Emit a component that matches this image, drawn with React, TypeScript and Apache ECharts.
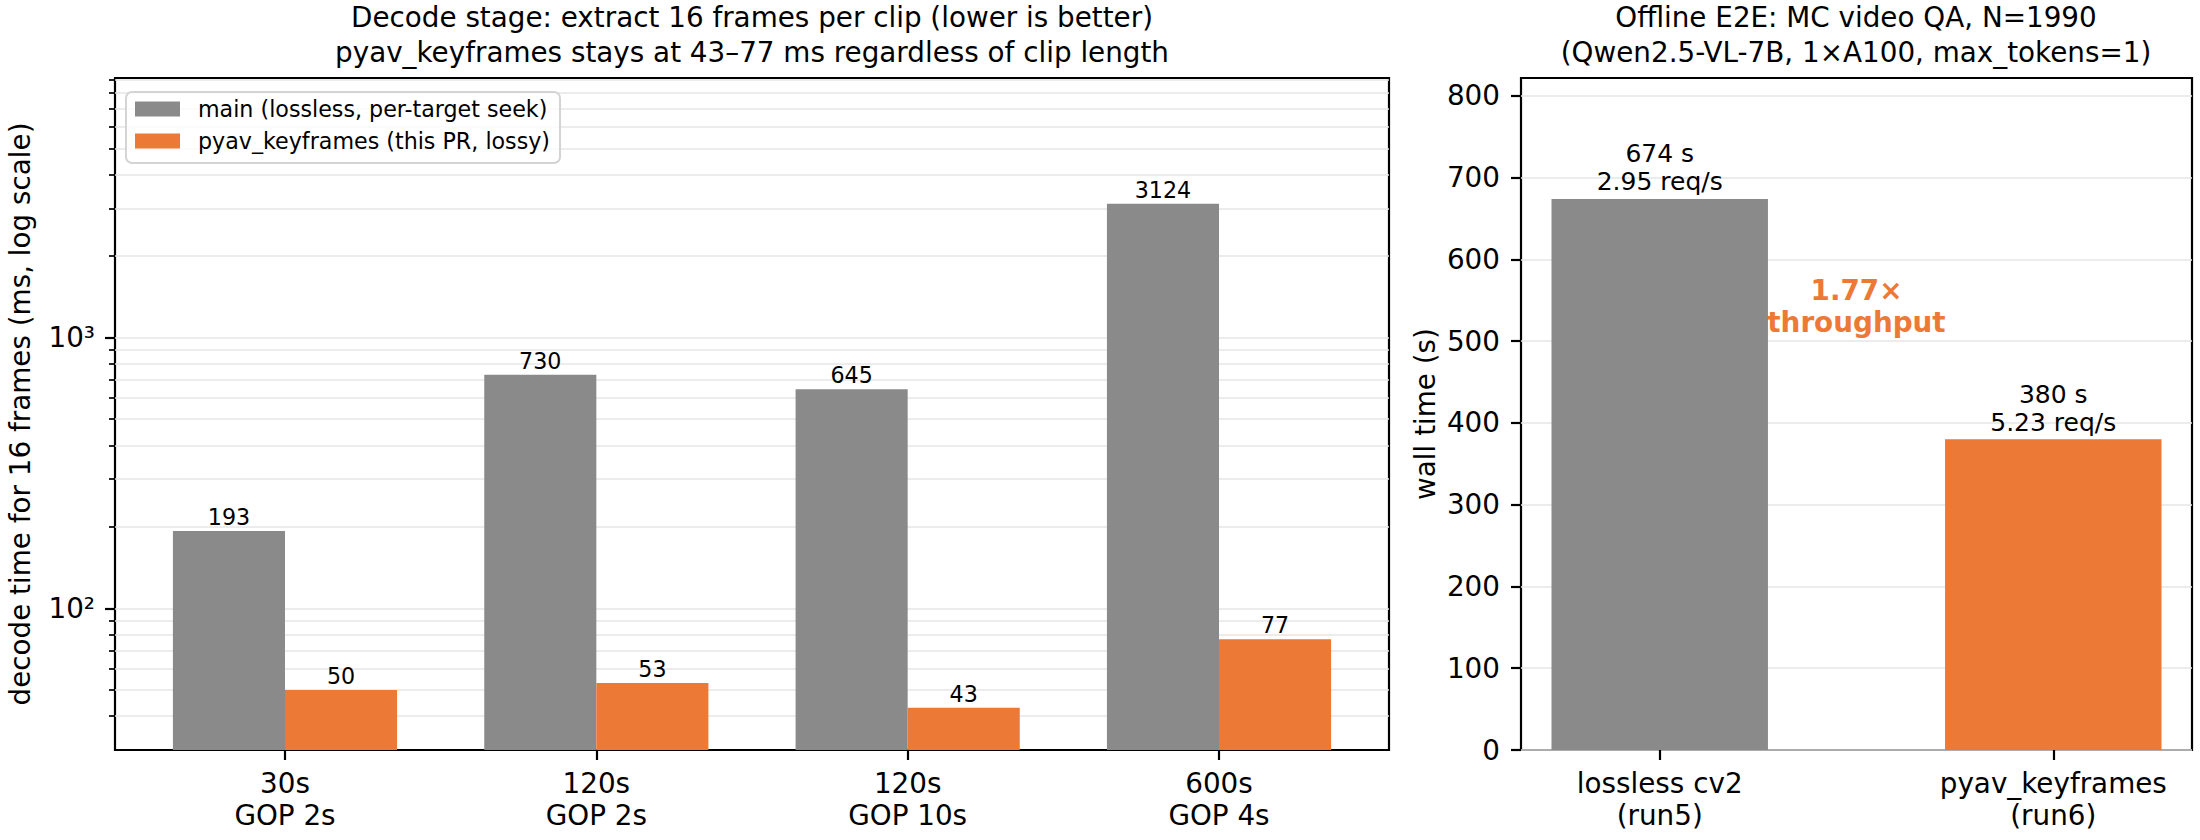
import React, { useEffect, useRef } from 'react';
import * as echarts from 'echarts';

// ---------- data ----------
const clipCategories = ['30s\nGOP 2s', '120s\nGOP 2s', '120s\nGOP 10s', '600s\nGOP 4s'];
const mainDecodeMs = [193, 730, 645, 3124];
const pyavDecodeMs = [50, 53, 43, 77];
const decodeSeriesNames = ['main (lossless, per-target seek)', 'pyav_keyframes (this PR, lossy)'];

const e2eCategories = ['lossless cv2\n(run5)', 'pyav_keyframes\n(run6)'];
const e2eWallTimeS = [674, 380];
const e2eReqPerS = [2.95, 5.23];

const decodeMajorTicks = [100, 1000];
const decodeMinorTicks = [40, 50, 60, 70, 80, 90, 200, 300, 400, 500, 600, 700, 800, 900, 2000, 3000, 4000, 5000, 6000, 7000, 8000, 9000];
const wallTimeTicks = [0, 100, 200, 300, 400, 500, 600, 700, 800];

const DECODE_MIN = 30;
const DECODE_MAX = 9100;
const WALL_MAX = 822;
const RATIO_LABEL_Y = 543;

const GRAY = '#8a8a8a';
const ORANGE = '#ED7936';
const GRID_LINE = '#e6e6e6';
const FONT = 'DejaVu Sans';
const FS = 27.8;

const LEFT_BAR = 0.36;
const RIGHT_BAR = 0.55;

function xRange(n: number, barHalfSpan: number) {
  const lo = -barHalfSpan;
  const hi = n - 1 + barHalfSpan;
  const m = 0.05 * (hi - lo);
  return [lo - m, hi + m];
}

export default function App() {
  const ref = useRef<HTMLDivElement>(null);
  useEffect(() => {
    if (!ref.current) return;
    const chart = echarts.init(ref.current, undefined, { renderer: 'svg' });
    const [lx0, lx1] = xRange(clipCategories.length, LEFT_BAR);
    const [rx0, rx1] = xRange(e2eCategories.length, RIGHT_BAR / 2);
    const sup: Record<string, string> = { '1': '¹', '2': '²', '3': '³', '4': '⁴' };
    const ratio = (e2eWallTimeS[0] / e2eWallTimeS[1]).toFixed(2);

    const xTickCommon = {
      show: true,
      length: 10,
      lineStyle: { color: '#000', width: 2.2 },
    };
    const xLabelCommon = {
      fontSize: FS,
      lineHeight: 32,
      color: '#000',
      fontFamily: FONT,
      margin: 17,
    };
    const noLine = { show: false, onZero: false };

    const option: any = {
      animation: false,
      textStyle: { fontFamily: FONT, color: '#000' },
      title: [
        {
          text: 'Decode stage: extract 16 frames per clip (lower is better)\npyav_keyframes stays at 43–77 ms regardless of clip length',
          left: 752,
          top: 0,
          textAlign: 'center',
          padding: 0,
          textStyle: { fontSize: FS, fontWeight: 'normal', lineHeight: 35, color: '#000', fontFamily: FONT },
        },
        {
          text: 'Offline E2E: MC video QA, N=1990\n(Qwen2.5-VL-7B, 1×A100, max_tokens=1)',
          left: 1856,
          top: 0,
          textAlign: 'center',
          padding: 0,
          textStyle: { fontSize: FS, fontWeight: 'normal', lineHeight: 35, color: '#000', fontFamily: FONT },
        },
      ],
      legend: {
        data: decodeSeriesNames,
        orient: 'vertical',
        left: 126,
        top: 92,
        itemWidth: 45,
        itemHeight: 15,
        itemGap: 10,
        icon: 'rect',
        backgroundColor: 'rgba(255,255,255,0.8)',
        borderColor: '#d4d4d4',
        borderWidth: 2,
        borderRadius: 6,
        padding: [6, 10, 11, 9],
        textStyle: { fontSize: 22.2, color: '#000', fontFamily: FONT, padding: [0, 0, 0, 13] },
      },
      grid: [
        { left: 115, top: 78, width: 1274, height: 672, show: true, borderColor: '#000', borderWidth: 2.2, backgroundColor: 'transparent', outerBoundsMode: 'none', containLabel: false },
        { left: 1521, top: 78, width: 671, height: 672, show: true, borderColor: '#000', borderWidth: 2.2, backgroundColor: 'transparent', outerBoundsMode: 'none', containLabel: false },
      ],
      xAxis: [
        {
          type: 'value',
          gridIndex: 0,
          position: 'bottom',
          min: lx0,
          max: lx1,
          axisLine: noLine,
          splitLine: { show: false },
          axisTick: { ...xTickCommon, customValues: clipCategories.map((_, i) => i) },
          axisLabel: {
            ...xLabelCommon,
            customValues: clipCategories.map((_, i) => i),
            formatter: (v: number) => clipCategories[Math.round(v)] ?? '',
          },
        },
        {
          type: 'value',
          gridIndex: 1,
          position: 'bottom',
          min: rx0,
          max: rx1,
          axisLine: noLine,
          splitLine: { show: false },
          axisTick: { ...xTickCommon, customValues: e2eCategories.map((_, i) => i) },
          axisLabel: {
            ...xLabelCommon,
            customValues: e2eCategories.map((_, i) => i),
            formatter: (v: number) => e2eCategories[Math.round(v)] ?? '',
          },
        },
      ],
      yAxis: [
        {
          type: 'log',
          logBase: 10,
          gridIndex: 0,
          position: 'left',
          min: DECODE_MIN,
          max: DECODE_MAX,
          name: 'decode time for 16 frames (ms, log scale)',
          nameLocation: 'middle',
          nameGap: 81,
          nameMoveOverlap: false,
          nameTextStyle: { fontSize: FS, color: '#000', fontFamily: FONT },
          axisLine: noLine,
          axisTick: { show: false },
          splitLine: { show: false },
          axisLabel: {
            fontSize: FS,
            color: '#000',
            fontFamily: FONT,
            margin: 20,
            formatter: (v: number) => {
              if (!decodeMajorTicks.includes(v)) return '';
              const e = String(Math.round(Math.log10(v)));
              return '10' + (sup[e] ?? e);
            },
          },
        },
        {
          type: 'value',
          gridIndex: 0,
          position: 'left',
          offset: 0,
          min: Math.log10(DECODE_MIN),
          max: Math.log10(DECODE_MAX),
          axisLine: noLine,
          axisLabel: { show: false },
          axisTick: {
            show: true,
            length: 10,
            lineStyle: { color: '#000', width: 2.2 },
            customValues: decodeMajorTicks.map((v) => Math.log10(v)),
          },
          splitLine: { show: true, lineStyle: { color: GRID_LINE, width: 1.5 } },
        },
        {
          type: 'value',
          gridIndex: 0,
          position: 'left',
          offset: 0,
          min: Math.log10(DECODE_MIN),
          max: Math.log10(DECODE_MAX),
          axisLine: noLine,
          axisLabel: { show: false },
          axisTick: {
            show: true,
            length: 6,
            lineStyle: { color: '#000', width: 1.7 },
            customValues: decodeMinorTicks.map((v) => Math.log10(v)),
          },
          splitLine: { show: true, lineStyle: { color: GRID_LINE, width: 1.5 } },
        },
        {
          type: 'value',
          gridIndex: 1,
          position: 'left',
          min: 0,
          max: WALL_MAX,
          name: 'wall time (s)',
          nameLocation: 'middle',
          nameGap: 82,
          nameMoveOverlap: false,
          nameTextStyle: { fontSize: FS, color: '#000', fontFamily: FONT },
          axisLine: noLine,
          axisTick: {
            show: true,
            length: 10,
            lineStyle: { color: '#000', width: 2.2 },
            customValues: wallTimeTicks,
          },
          axisLabel: {
            fontSize: FS,
            color: '#000',
            fontFamily: FONT,
            margin: 21,
            customValues: wallTimeTicks,
          },
          splitLine: { show: true, lineStyle: { color: GRID_LINE, width: 1.5 } },
        },
      ],
      series: [
        {
          name: decodeSeriesNames[0],
          type: 'bar',
          xAxisIndex: 0,
          yAxisIndex: 0,
          data: mainDecodeMs.map((v, i) => [i, v]),
          barWidth: LEFT_BAR * 100 + '%',
          barGap: '0%',
          clip: true,
          itemStyle: { color: GRAY },
          label: {
            show: true,
            position: 'top',
            distance: 3,
            fontSize: 22.2,
            color: '#000',
            fontFamily: FONT,
            formatter: (p: any) => String(p.value[1]),
          },
        },
        {
          name: decodeSeriesNames[1],
          type: 'bar',
          xAxisIndex: 0,
          yAxisIndex: 0,
          data: pyavDecodeMs.map((v, i) => [i, v]),
          barWidth: LEFT_BAR * 100 + '%',
          barGap: '0%',
          clip: true,
          itemStyle: { color: ORANGE },
          label: {
            show: true,
            position: 'top',
            distance: 3,
            fontSize: 22.2,
            color: '#000',
            fontFamily: FONT,
            formatter: (p: any) => String(p.value[1]),
          },
        },
        {
          name: 'e2e',
          type: 'bar',
          xAxisIndex: 1,
          yAxisIndex: 3,
          barWidth: RIGHT_BAR * 100 + '%',
          data: e2eWallTimeS.map((v, i) => ({ value: [i, v], itemStyle: { color: i === 0 ? GRAY : ORANGE } })),
          label: {
            show: true,
            position: 'top',
            distance: 3,
            fontSize: 25,
            lineHeight: 28,
            color: '#000',
            fontFamily: FONT,
            formatter: (p: any) => `${p.value[1]} s\n${e2eReqPerS[p.dataIndex].toFixed(2)} req/s`,
          },
          markPoint: {
            symbol: 'rect',
            symbolSize: 1,
            itemStyle: { color: 'rgba(0,0,0,0)' },
            label: {
              show: true,
              position: 'inside',
              fontSize: FS,
              lineHeight: 32,
              fontWeight: 'bold',
              color: ORANGE,
              fontFamily: FONT,
              formatter: `${ratio}×\nthroughput`,
            },
            data: [{ coord: [0.5, RATIO_LABEL_Y] }],
          },
        },
      ],
    };
    chart.setOption(option);
    return () => chart.dispose();
  }, []);
  return (
    <div
      ref={ref}
      style={{ position: 'fixed', left: 0, top: 0, width: 2200, height: 840, background: '#fff' }}
    />
  );
}
